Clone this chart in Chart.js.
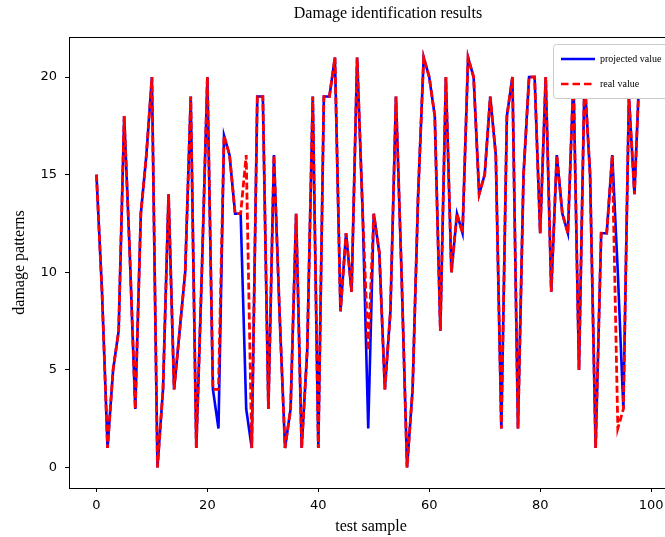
<!DOCTYPE html>
<html>
<head>
<meta charset="utf-8">
<script src="https://cdn.jsdelivr.net/npm/chart.js@4.4.0/dist/chart.umd.min.js"></script>
<style>
  html, body { margin: 0; padding: 0; background: #fff; overflow: hidden; }
  #wrap { width: 665px; height: 537px; overflow: hidden; }
</style>
</head>
<body>
<div id="wrap"><canvas id="chart" width="700" height="537"></canvas></div>
<script>
// damage pattern per test sample
const projected = [15, 9, 1, 5, 7, 18, 11, 3, 13, 16,
  20, 0, 4, 14, 4, 7, 10, 19, 1, 10,
  20, 4, 2, 17, 16, 13, 13, 3, 1, 19,
  19, 3, 16, 8, 1, 3, 13, 1, 6, 19,
  1, 19, 19, 21, 8, 12, 9, 21, 13, 2,
  13, 11, 4, 8, 19, 10, 0, 4, 14, 21,
  20, 18, 7, 20, 10, 13, 12, 21, 20, 14,
  15, 19, 16, 2, 18, 20, 2, 15, 20, 20,
  12, 20, 9, 16, 13, 12, 20, 5, 20, 15,
  1, 12, 12, 16, 10, 3, 19, 14, 21, 20];
const real = [15, 9, 1, 5, 7, 18, 11, 3, 13, 16,
  20, 0, 4, 14, 4, 7, 10, 19, 1, 10,
  20, 4, 4, 17, 16, 13, 13, 16, 1, 19,
  19, 3, 16, 8, 1, 3, 13, 1, 6, 19,
  1, 19, 19, 21, 8, 12, 9, 21, 13, 6,
  13, 11, 4, 8, 19, 10, 0, 4, 14, 21,
  20, 18, 7, 20, 10, 13, 12, 21, 20, 14,
  15, 19, 16, 2, 18, 20, 2, 15, 20, 20,
  12, 20, 9, 16, 13, 12, 20, 5, 20, 15,
  1, 12, 12, 16, 2, 3, 19, 14, 21, 20];
const samples = projected.map((_, i) => i);
const xTicks = [0, 20, 40, 60, 80, 100];
const yTicks = [0, 5, 10, 15, 20];

const serif = '"Liberation Serif", "Times New Roman", serif';
const tickFont = { family: '"DejaVu Sans", sans-serif', size: 13 };

const toPoints = arr => samples.map((s, i) => ({ x: s, y: arr[i] }));

// axes box (matplotlib style spines)
const frame = {
  id: 'frame',
  afterDatasetsDraw(chart) {
    const { ctx, chartArea: a } = chart;
    ctx.save();
    ctx.strokeStyle = '#000';
    ctx.lineWidth = 1;
    ctx.strokeRect(a.left + 0.5, a.top + 0.5, a.right - a.left, a.bottom - a.top);
    ctx.restore();
  }
};

const titleAndLegend = {
  id: 'titleAndLegend',
  afterDraw(chart) {
    const ctx = chart.ctx;
    ctx.save();
    ctx.fillStyle = '#000';
    ctx.font = '16px ' + serif;
    ctx.textAlign = 'center';
    ctx.textBaseline = 'middle';
    ctx.fillText('Damage identification results', 388, 14);

    // legend box
    ctx.fillStyle = '#fff';
    ctx.strokeStyle = '#cccccc';
    ctx.lineWidth = 1;
    ctx.beginPath();
    ctx.roundRect(553.5, 44.5, 119, 54, 3);
    ctx.fill();
    ctx.stroke();

    ctx.lineWidth = 2.5;
    ctx.strokeStyle = '#0000ff';
    ctx.beginPath();
    ctx.moveTo(561, 59);
    ctx.lineTo(595, 59);
    ctx.stroke();
    ctx.strokeStyle = '#ff0000';
    ctx.setLineDash([7.5, 4]);
    ctx.beginPath();
    ctx.moveTo(561, 84);
    ctx.lineTo(595, 84);
    ctx.stroke();
    ctx.setLineDash([]);

    ctx.fillStyle = '#000';
    ctx.font = '10px ' + serif;
    ctx.textAlign = 'left';
    ctx.fillText('projected value', 600, 59);
    ctx.fillText('real value', 600, 84);
    ctx.restore();
  }
};

new Chart(document.getElementById('chart'), {
  type: 'line',
  data: {
    datasets: [{
      label: 'projected value',
      data: toPoints(projected),
      borderColor: '#0000ff',
      borderWidth: 2.6,
      pointRadius: 0,
      tension: 0,
      order: 2
    }, {
      label: 'real value',
      data: toPoints(real),
      borderColor: '#ff0000',
      borderWidth: 2.8,
      borderDash: [7, 3],
      pointRadius: 0,
      tension: 0,
      order: 1
    }]
  },
  options: {
    responsive: false,
    animation: false,
    layout: { padding: { top: 37, right: 27, left: 0, bottom: 0 } },
    plugins: {
      legend: { display: false },
      title: { display: false },
      tooltip: { enabled: false }
    },
    scales: {
      x: {
        type: 'linear',
        min: -4.95,
        max: 103.95,
        afterBuildTicks: s => { s.ticks = xTicks.map(v => ({ value: v })); },
        afterFit: s => { s.height = 49; },
        ticks: { font: tickFont, color: '#000', padding: 6, maxRotation: 0 },
        grid: { display: true, drawOnChartArea: false, drawTicks: true, tickLength: 4, color: '#000' },
        border: { display: false },
        title: { display: true, text: 'test sample', color: '#000',
          font: { family: serif, size: 16 }, padding: { top: 0, bottom: 1 } }
      },
      y: {
        min: -1.05,
        max: 22.05,
        afterBuildTicks: s => { s.ticks = yTicks.map(v => ({ value: v })); },
        afterFit: s => { s.width = 69; },
        ticks: { font: tickFont, color: '#000', padding: 8 },
        grid: { display: true, drawOnChartArea: false, drawTicks: true, tickLength: 4, color: '#000' },
        border: { display: false },
        title: { display: true, text: 'damage patterns', color: '#000',
          font: { family: serif, size: 16 }, padding: { top: 10, bottom: 0 } }
      }
    }
  },
  plugins: [frame, titleAndLegend]
});
</script>
</body>
</html>
